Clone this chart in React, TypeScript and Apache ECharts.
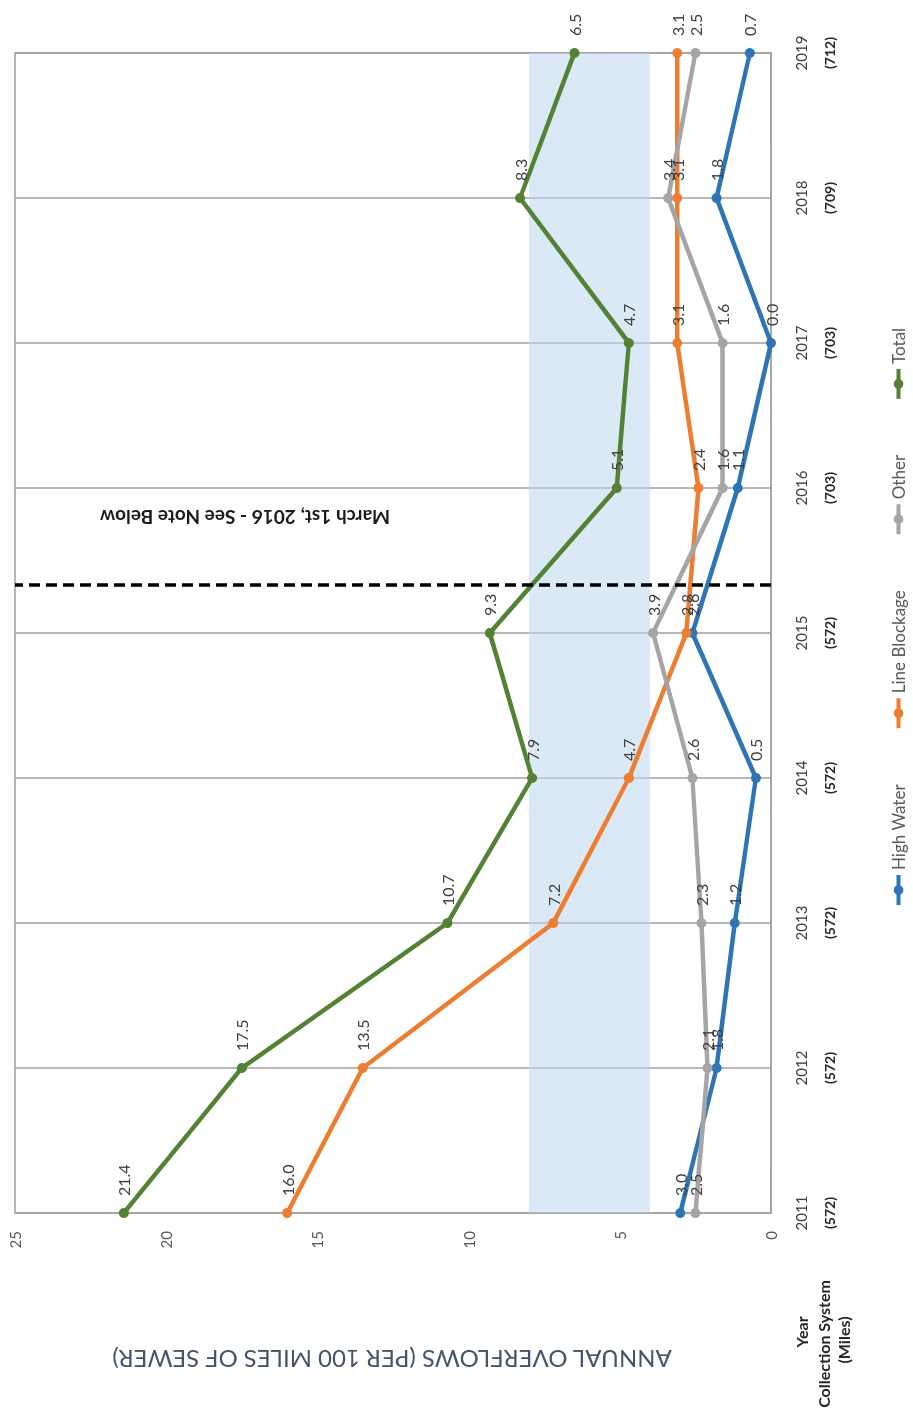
import React, { useEffect, useRef } from "react";
import * as echarts from "echarts";

// ---- data ----
const years = [2011, 2012, 2013, 2014, 2015, 2016, 2017, 2018, 2019];
const miles = [572, 572, 572, 572, 572, 703, 703, 709, 712];
const highWater = [3.0, 1.8, 1.2, 0.5, 2.6, 1.1, 0.0, 1.8, 0.7];
const lineBlockage = [16.0, 13.5, 7.2, 4.7, 2.8, 2.4, 3.1, 3.1, 3.1];
const other = [2.5, 2.1, 2.3, 2.6, 3.9, 1.6, 1.6, 3.4, 2.5];
const total = [21.4, 17.5, 10.7, 7.9, 9.3, 5.1, 4.7, 8.3, 6.5];
const valueMin = 0;
const valueMax = 25;
const valueStep = 5;
const targetBand = [4, 8];
const noteYear = 2015.33;
const seriesNames = ["High Water", "Line Blockage", "Other", "Total"];
const yAxisTitle = "ANNUAL OVERFLOWS (PER 100 MILES OF SEWER)";
const noteText = "March 1st, 2016 - See Note Below";

const FONT = "Lato, 'Open Sans', sans-serif";
const colors = ["#2E75B6", "#ED7D31", "#A5A5A5", "#548235"];

export default function App() {
  const ref = useRef<HTMLDivElement>(null);

  useEffect(() => {
    const chart = echarts.init(ref.current!, null, { renderer: "svg" });
    const pair = (arr: number[]) => years.map((y, i) => [y, arr[i]]);
    const mk = (idx: number, arr: number[], extra: any = {}) => ({
      name: seriesNames[idx],
      type: "line",
      data: pair(arr),
      symbol: "circle",
      symbolSize: 10,
      lineStyle: { color: colors[idx], width: 4.5 },
      itemStyle: { color: colors[idx] },
      label: {
        show: true,
        position: "right",
        distance: 12,
        fontSize: 16,
        fontFamily: FONT,
        color: "#404040",
        formatter: (p: any) => Number(p.value[1]).toFixed(1),
      },
      z: 3,
      ...extra,
    });

    const option: any = {
      animation: false,
      backgroundColor: "#ffffff",
      grid: {
        left: 203,
        right: 53,
        top: 15,
        bottom: 142,
        show: true,
        borderColor: "#A0A0A0",
        borderWidth: 1.5,
      },
      legend: {
        data: seriesNames,
        left: 504,
        top: 885,
        itemWidth: 30,
        itemHeight: 12,
        itemGap: 54,
        lineStyle: { width: 4 },
        textStyle: { fontSize: 17, color: "#595959", fontFamily: FONT },
      },
      xAxis: {
        type: "value",
        min: years[0],
        max: years[years.length - 1],
        interval: 1,
        axisLine: { show: true, lineStyle: { color: "#A0A0A0", width: 1.5 } },
        axisTick: { show: false },
        splitLine: { show: true, lineStyle: { color: "#A0A0A0", width: 1.5 } },
        axisLabel: {
          margin: 16,
          formatter: (v: number) => {
            const i = years.indexOf(Math.round(v));
            return `{y|${v}}\n{m|(${miles[i]})}`;
          },
          rich: {
            y: { fontSize: 15, color: "#404040", fontFamily: FONT, lineHeight: 28 },
            m: { fontSize: 14, fontWeight: "bold", color: "#262626", fontFamily: FONT, lineHeight: 28 },
          },
        },
      },
      yAxis: {
        type: "value",
        min: valueMin,
        max: valueMax,
        interval: valueStep,
        axisLine: { show: false },
        axisTick: { show: false },
        splitLine: { show: false },
        axisLabel: { margin: 18, fontSize: 15, color: "#595959", fontFamily: FONT },
      },
      series: [
        mk(0, highWater, {
          markArea: {
            silent: true,
            itemStyle: { color: "rgba(189,215,238,0.55)" },
            data: [[{ xAxis: years[0], yAxis: targetBand[0] }, { xAxis: years[years.length - 1], yAxis: targetBand[1] }]],
          },
          markLine: {
            silent: true,
            symbol: "none",
            label: { show: false },
            lineStyle: { color: "#000000", width: 3.5, type: [11, 6] },
            data: [{ xAxis: noteYear }],
          },
        }),
        mk(1, lineBlockage),
        mk(2, other),
        mk(3, total),
      ],
      graphic: [
        {
          type: "text",
          x: 56,
          y: 392,
          rotation: Math.PI / 2,
          style: { text: yAxisTitle, fontSize: 24, fill: "#44546A", fontFamily: FONT, align: "center", verticalAlign: "middle" },
        },
        {
          type: "text",
          x: 898,
          y: 245,
          rotation: Math.PI / 2,
          style: { text: noteText, fontSize: 19, fontWeight: "bold", fill: "#1a1a1a", fontFamily: FONT, align: "center", verticalAlign: "middle" },
        },
        {
          type: "text",
          x: 84,
          y: 801,
          style: { text: "Year", fontSize: 16, fontWeight: "bold", fill: "#262626", fontFamily: FONT, align: "center", verticalAlign: "middle" },
        },
        {
          type: "text",
          x: 72,
          y: 823,
          style: { text: "Collection System", fontSize: 16, fontWeight: "bold", fill: "#262626", fontFamily: FONT, align: "center", verticalAlign: "middle" },
        },
        {
          type: "text",
          x: 76,
          y: 843,
          style: { text: "(Miles)", fontSize: 16, fontWeight: "bold", fill: "#262626", fontFamily: FONT, align: "center", verticalAlign: "middle" },
        },
      ],
    };
    chart.setOption(option);
    return () => chart.dispose();
  }, []);

  return (
    <div
      style={{
        position: "fixed",
        left: 0,
        top: 0,
        width: 1416,
        height: 913,
        transformOrigin: "0 0",
        transform: "translate(0px, 1416px) rotate(-90deg)",
        background: "#ffffff",
      }}
    >
      <div ref={ref} style={{ width: 1416, height: 913 }} />
    </div>
  );
}
